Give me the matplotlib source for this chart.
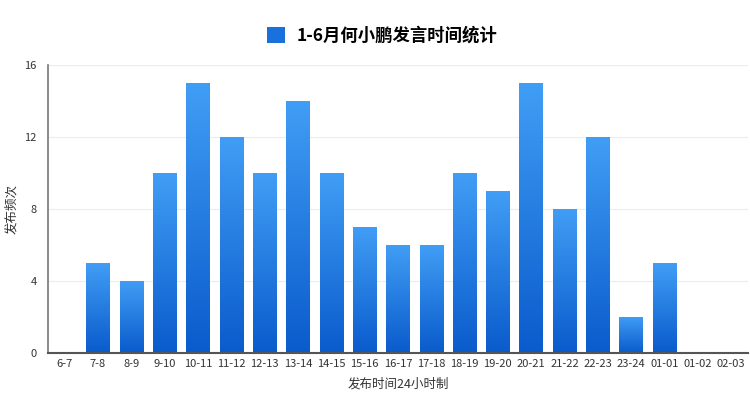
import numpy as np
import matplotlib
matplotlib.use("Agg")
from matplotlib import pyplot as plt
from matplotlib.colors import LinearSegmentedColormap
from matplotlib.patches import Patch

plt.rcParams['font.family'] = ['Noto Sans CJK SC', 'DejaVu Sans']

# 数据
hours = ["6-7", "7-8", "8-9", "9-10", "10-11", "11-12", "12-13", "13-14", "14-15",
         "15-16", "16-17", "17-18", "18-19", "19-20", "20-21", "21-22", "22-23",
         "23-24", "01-01", "01-02", "02-03"]
counts = [0, 5, 4, 10, 15, 12, 10, 14, 10, 7, 6, 6, 10, 9, 15, 8, 12, 2, 5, 0, 0]
yticks = [0, 4, 8, 12, 16]

title = "1-6月何小鹏发言时间统计"
top_color = "#419ef5"
bottom_color = "#0a5bcc"

fig = plt.figure(figsize=(7.5, 3.98), dpi=100)
ax = fig.add_axes([0.064, 0.113, 0.933, 0.724])

x = np.arange(len(hours))
bars = ax.bar(x, counts, width=0.7, color="none", edgecolor="none", zorder=2)

# 每个柱子做竖直渐变
cmap = LinearSegmentedColormap.from_list("blue", [bottom_color, top_color])
grad = np.linspace(0, 1, 256).reshape(-1, 1)
for bar in bars:
    h = bar.get_height()
    if h <= 0:
        continue
    x0 = bar.get_x()
    w = bar.get_width()
    im = ax.imshow(grad, cmap=cmap, origin="lower", aspect="auto",
                   extent=[x0, x0 + w, 0, h], zorder=2)
    im.set_clip_path(bar)

ax.set_xlim(-0.5, len(hours) - 0.5)
ax.set_ylim(0, 16)
ax.set_xticks(x)
ax.set_xticklabels(hours, fontsize=8, color="#333333")
ax.set_yticks(yticks)
ax.set_yticklabels([str(v) for v in yticks], fontsize=8, color="#333333")
ax.tick_params(axis="x", length=0, pad=4)
ax.tick_params(axis="y", length=0, pad=8)

ax.grid(axis="y", color="#ececec", linewidth=0.8, zorder=0)
ax.set_axisbelow(True)
for side in ["top", "right"]:
    ax.spines[side].set_visible(False)
ax.spines["left"].set_color("#777777")
ax.spines["left"].set_linewidth(1.2)
ax.spines["bottom"].set_color("#555555")
ax.spines["bottom"].set_linewidth(1.5)

ax.set_ylabel("发布频次", fontsize=9, color="#333333")
ax.yaxis.set_label_coords(-0.042, 0.5)
ax.set_xlabel("发布时间24小时制", fontsize=9, color="#333333")
ax.xaxis.set_label_coords(0.5, -0.085)

handle = Patch(facecolor="#1a70dc", edgecolor="none")
fig.legend([handle], [title], loc="center", bbox_to_anchor=(0.51, 0.91),
           frameon=False, handlelength=1.0, handleheight=1.0, handletextpad=0.7,
           prop={"family": ['Noto Sans CJK SC', 'DejaVu Sans'], "weight": "bold", "size": 12.5})

plt.savefig("out.png", dpi=100, facecolor="white")
